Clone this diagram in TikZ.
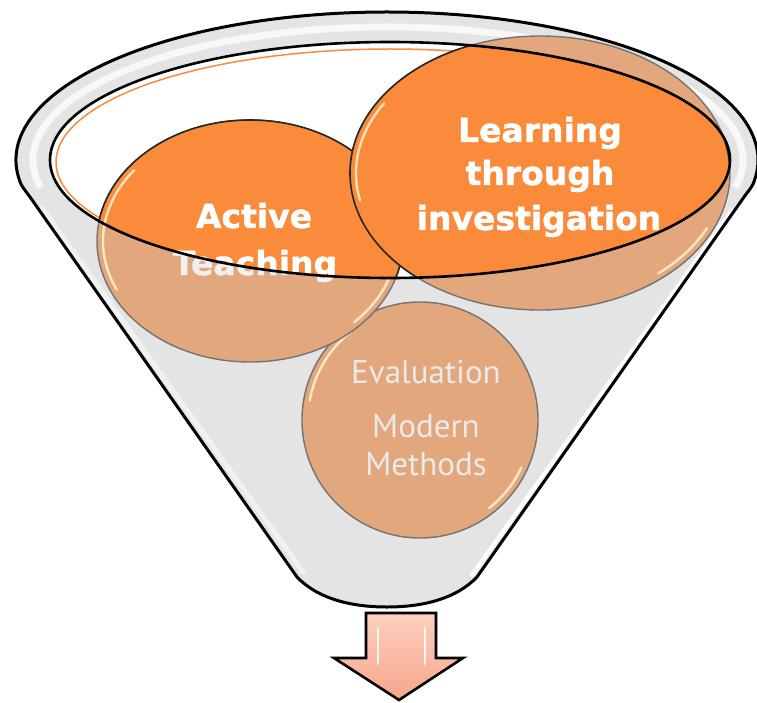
\documentclass[tikz,border=0pt]{standalone}
\usepackage{fontspec}
\newfontfamily\dvs{DejaVu Sans}[BoldFeatures={FakeBold=1.3}]
\newfontfamily\humsans{PT Sans}
\definecolor{orangeB}{RGB}{249,139,58}
\definecolor{orangeF}{RGB}{227,167,126}
\definecolor{funnelgray}{RGB}{228,228,228}
\definecolor{hilite}{RGB}{255,246,214}
\definecolor{arrowtop}{RGB}{252,208,192}
\definecolor{arrowbot}{RGB}{247,166,140}
\definecolor{evaltext}{RGB}{234,234,234}
\begin{document}
\begin{tikzpicture}[x=1pt,y=-1pt,
  funneledge/.style={draw=black,line width=3pt,line join=round},
  brightfill/.style={fill=orangeB,draw=black!85,line width=1.6pt},
  fadedfill/.style={fill=orangeF,draw=black!55,line width=1.4pt},
  glossy/.style={draw=hilite,line width=2.4pt,line cap=round,opacity=0.8},
  boldtext/.style={font={\dvs\bfseries\fontsize{33}{40}\selectfont},inner sep=0pt,anchor=base},
  evalstyle/.style={font={\humsans\fontsize{33}{40}\selectfont},text=evaltext,inner sep=0pt,anchor=base},
  arrowshape/.style={top color=arrowtop,bottom color=arrowbot,draw=black,line width=2.6pt,line join=miter}]
\useasboundingbox (0,0) rectangle (757,703);
\def\funnelpath{(297,577) -- (30,197) .. controls (25,190) and (21,186) .. (19.6,180.6)
  arc[start angle=172, end angle=368, x radius=371, y radius=148]
  .. controls (753,186) and (749,190) .. (744,197) -- (477,577)
  .. controls (455,600) and (420,607) .. (387,607)
  .. controls (354,607) and (319,600) .. (297,577) -- cycle}
% funnel body
\fill[funnelgray] \funnelpath;
\draw[white,line width=7pt,opacity=0.75] (388,160) ++(168:355 and 133)
  arc[start angle=168, end angle=372, x radius=355, y radius=133];
\draw[white,line width=5pt,opacity=0.5,line cap=round] (42,208) -- (303,572);
\draw[white,line width=4pt,opacity=0.9,line cap=round] (732,210) -- (472,575);
% opening of the funnel
\fill[white] (390,160) ellipse[x radius=340, y radius=118];
\draw[orangeB,line width=1.5pt] (390,162) ++(150:334 and 113)
  arc[start angle=150, end angle=285, x radius=334, y radius=113];
% faded (seen through the funnel) circles
\draw[fadedfill] (420,420) ellipse[x radius=118, y radius=118];
\draw[glossy] (420,420) ++(190:112 and 112) arc[start angle=190, end angle=232, x radius=112, y radius=112];
\draw[glossy] (420,420) ++(25:112 and 112) arc[start angle=25, end angle=52, x radius=112, y radius=112];
\draw[fadedfill] (250,241) ellipse[x radius=153, y radius=121];
\draw[glossy] (250,241) ++(155:147 and 115) arc[start angle=155, end angle=218, x radius=147, y radius=115];
\draw[glossy] (250,241) ++(18:147 and 115) arc[start angle=18, end angle=45, x radius=147, y radius=115];
\draw[fadedfill] (540,173) ellipse[x radius=190, y radius=137];
\draw[glossy] (540,173) ++(168:184 and 131) arc[start angle=168, end angle=212, x radius=184, y radius=131];
\draw[glossy] (540,173) ++(25:184 and 131) arc[start angle=25, end angle=50, x radius=184, y radius=131];
\node[evalstyle] (ev) at (426,383) {Evaluation};
\node[evalstyle] (mo) at (426,437) {Modern};
\node[evalstyle] (me) at (426,475) {Methods};
\node[boldtext,text=white!94!black] (teachF) at (255,275) {Teaching};
% bright parts inside the opening
\begin{scope}
  \clip (390,160) ellipse[x radius=340, y radius=118];
  \draw[brightfill] (250,241) ellipse[x radius=153, y radius=121];
  \draw[glossy] (250,241) ++(155:147 and 115) arc[start angle=155, end angle=218, x radius=147, y radius=115];
  \draw[brightfill] (540,173) ellipse[x radius=190, y radius=137];
  \draw[glossy] (540,173) ++(168:184 and 131) arc[start angle=168, end angle=212, x radius=184, y radius=131];
  \draw[glossy] (540,173) ++(25:184 and 131) arc[start angle=25, end angle=50, x radius=184, y radius=131];
  \node[boldtext,text=white] (act) at (254,228) {Active};
  \node[boldtext,text=white] (teach) at (255,275) {Teaching};
  \node[boldtext,text=white] (lea) at (540,142) {Learning};
  \node[boldtext,text=white] (thr) at (540,185) {through};
  \node[boldtext,text=white] (inv) at (539,230) {investigation};
\end{scope}
% rims
\draw[black,line width=2.6pt] (390,160) ellipse[x radius=340, y radius=118];
\draw[funneledge] \funnelpath;
% output arrow
\draw[arrowshape] (366,613) -- (436,613) -- (436,658) -- (463,658) -- (399,700)
  -- (334,658) -- (366,658) -- cycle;
\draw[white,line width=2.5pt,line cap=round,opacity=0.85] (378,628) -- (378,664);
\draw[white,line width=2.5pt,line cap=round,opacity=0.85] (425,628) -- (425,664);
\end{tikzpicture}
\end{document}
